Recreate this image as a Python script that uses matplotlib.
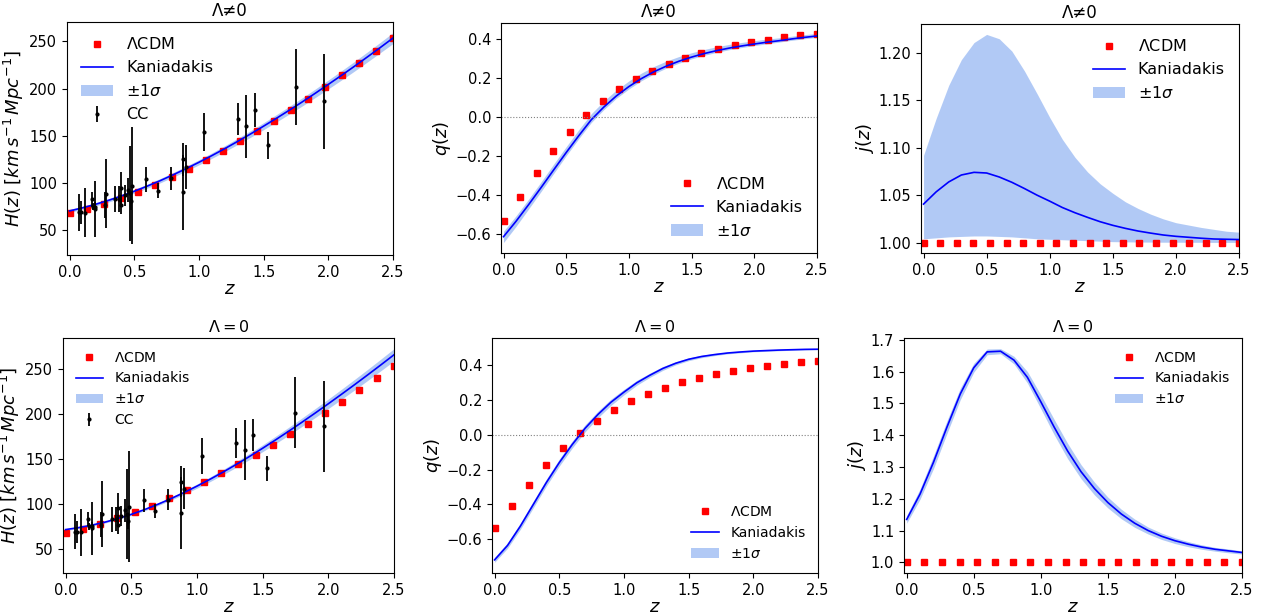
import matplotlib
matplotlib.use("Agg")
import matplotlib.pyplot as plt
import numpy as np

# cosmic chronometer data (z, H, sigma_H)
cc_z = [0.07, 0.09, 0.12, 0.17, 0.179, 0.199, 0.2, 0.27, 0.28, 0.352, 0.3802, 0.4,
        0.4004, 0.4247, 0.4497, 0.47, 0.4783, 0.48, 0.593, 0.68, 0.781, 0.875, 0.88,
        0.9, 1.037, 1.3, 1.363, 1.43, 1.53, 1.75, 1.965]
cc_h = [69, 69, 68.6, 83, 75, 75, 72.9, 77, 88.8, 83, 83, 95, 77, 87.1, 92.8, 89,
        80.9, 97, 104, 92, 105, 125, 90, 117, 154, 168, 160, 177, 140, 202, 186.5]
cc_err = [19.6, 12, 26.2, 8, 4, 5, 29.6, 14, 36.6, 14, 13.5, 17, 10.2, 11.2, 12.9, 50,
          9, 62, 13, 8, 12, 17, 40, 23, 20, 17, 33.6, 18, 14, 40, 50.4]

# LCDM reference points
lcdm_z = [0.0, 0.1316, 0.2632, 0.3947, 0.5263, 0.6579, 0.7895, 0.9211, 1.0526, 1.1842,
          1.3158, 1.4474, 1.5789, 1.7105, 1.8421, 1.9737, 2.1053, 2.2368, 2.3684, 2.5]
lcdm_h = [67.8, 72.4, 77.7, 83.9, 90.8, 98.3, 106.5, 115.2, 124.5, 134.2,
          144.5, 155.1, 166.2, 177.6, 189.4, 201.6, 214.1, 226.9, 240.1, 253.5]
lcdm_q = [-0.535, -0.409, -0.287, -0.176, -0.078, 0.008, 0.080, 0.142, 0.193, 0.236,
          0.272, 0.302, 0.328, 0.349, 0.367, 0.383, 0.396, 0.408, 0.417, 0.426]
lcdm_j = [1.0] * 20

# Kaniadakis curves on z = 0, 0.1, ..., 2.5
kz = [0.0, 0.1, 0.2, 0.3, 0.4, 0.5, 0.6, 0.7, 0.8, 0.9, 1.0, 1.1, 1.2,
      1.3, 1.4, 1.5, 1.6, 1.7, 1.8, 1.9, 2.0, 2.1, 2.2, 2.3, 2.4, 2.5]

# Lambda != 0
h_nl = [70.5, 73.75, 77.47, 81.64, 86.26, 91.29, 96.73, 102.5, 108.7, 115.2, 122.0, 129.1, 136.5,
        144.2, 152.1, 160.3, 168.7, 177.3, 186.1, 195.2, 204.5, 213.9, 223.5, 233.4, 243.4, 253.6]
h_nl_sig = [1.6, 1.6, 1.7, 1.8, 1.9, 2.0, 2.1, 2.3, 2.4, 2.6, 2.7, 2.9, 3.1,
            3.3, 3.5, 3.7, 3.9, 4.1, 4.3, 4.5, 4.7, 4.9, 5.1, 5.3, 5.5, 5.8]
q_nl = [-0.614, -0.535, -0.450, -0.362, -0.272, -0.183, -0.097, -0.015, 0.050, 0.107, 0.155, 0.196, 0.231,
        0.260, 0.285, 0.306, 0.324, 0.339, 0.352, 0.363, 0.373, 0.382, 0.390, 0.399, 0.407, 0.414]
q_nl_up = [0.028, 0.028, 0.028, 0.029, 0.030, 0.030, 0.031, 0.031, 0.031, 0.030, 0.029, 0.028, 0.027,
           0.026, 0.024, 0.022, 0.021, 0.020, 0.019, 0.018, 0.017, 0.016, 0.015, 0.014, 0.014, 0.013]
q_nl_dn = [0.030, 0.026, 0.022, 0.020, 0.018, 0.016, 0.015, 0.014, 0.013, 0.012, 0.012, 0.011, 0.011,
           0.010, 0.010, 0.009, 0.009, 0.009, 0.008, 0.008, 0.008, 0.008, 0.007, 0.007, 0.007, 0.007]
j_nl = [1.0406, 1.0535, 1.0640, 1.0713, 1.0741, 1.0734, 1.0692, 1.0636, 1.0570, 1.0500, 1.0437, 1.0370, 1.0315,
        1.0266, 1.0220, 1.0182, 1.0150, 1.0122, 1.0100, 1.0080, 1.0066, 1.0056, 1.0046, 1.0038, 1.0035, 1.0032]
j_nl_hi = [1.092, 1.131, 1.166, 1.193, 1.211, 1.2196, 1.215, 1.202, 1.181, 1.157, 1.132, 1.109, 1.090,
           1.0745, 1.062, 1.052, 1.043, 1.036, 1.030, 1.025, 1.021, 1.0185, 1.016, 1.014, 1.012, 1.011]
j_nl_lo = [1.0040, 1.0050, 1.0060, 1.0065, 1.0070, 1.0070, 1.0065, 1.0060, 1.0050, 1.0040, 1.0035, 1.0030, 1.0025,
           1.0020, 1.0015, 1.0010, 1.0008, 1.0006, 1.0005, 1.0004, 1.0004, 1.0003, 1.0003, 1.0002, 1.0002, 1.0002]

# Lambda = 0
h_l0 = [71.5, 73.72, 76.46, 79.82, 83.84, 88.49, 93.73, 99.53, 105.86, 112.67, 119.93, 127.62, 135.71,
        144.18, 153.01, 162.17, 171.61, 181.30, 191.24, 201.39, 211.75, 222.30, 233.04, 243.97, 255.07, 266.35]
h_l0_sig = [1.0, 1.0, 1.0, 1.0, 1.0, 1.1, 1.3, 1.5, 1.7, 2.0, 2.3, 2.6, 2.9,
            3.2, 3.5, 3.8, 4.1, 4.4, 4.7, 5.0, 5.3, 5.6, 5.9, 6.2, 6.5, 6.8]
q_l0 = [-0.720, -0.637, -0.525, -0.400, -0.275, -0.160, -0.056, 0.038, 0.118, 0.188, 0.246, 0.300, 0.343,
        0.382, 0.412, 0.435, 0.451, 0.462, 0.471, 0.477, 0.482, 0.485, 0.488, 0.490, 0.492, 0.493]
q_l0_sig = [0.014, 0.016, 0.018, 0.019, 0.020, 0.020, 0.020, 0.020, 0.019, 0.018, 0.016, 0.014, 0.012,
            0.011, 0.009, 0.008, 0.007, 0.006, 0.005, 0.005, 0.004, 0.004, 0.004, 0.003, 0.003, 0.003]
j_l0 = [1.135, 1.215, 1.315, 1.425, 1.530, 1.612, 1.662, 1.664, 1.636, 1.582, 1.505, 1.425, 1.350,
        1.285, 1.232, 1.188, 1.152, 1.123, 1.100, 1.082, 1.068, 1.057, 1.048, 1.041, 1.036, 1.031]
j_l0_sig = [0.012, 0.016, 0.020, 0.020, 0.018, 0.014, 0.009, 0.008, 0.012, 0.018, 0.022, 0.024, 0.024,
            0.022, 0.020, 0.017, 0.015, 0.013, 0.011, 0.010, 0.009, 0.008, 0.007, 0.006, 0.006, 0.005]

z_ticks = [0.0, 0.5, 1.0, 1.5, 2.0, 2.5]
j_l0_ticks = [1.0, 1.1, 1.2, 1.3, 1.4, 1.5, 1.6, 1.7]

BAND = dict(color="cornflowerblue", alpha=0.5, linewidth=0)


def draw_panel(ax, lcdm_y, k_y, lo, hi, title, ylabel, legend_loc, legend_size,
               cc=False, zero_line=False, title_size=12):
    ax.plot(lcdm_z, lcdm_y, "s", color="red", ms=4.3, label=r"$\Lambda$CDM")
    ax.plot(kz, k_y, color="blue", lw=1.2, label="Kaniadakis")
    ax.fill_between(kz, lo, hi, label=r"$\pm1\sigma$", **BAND)
    if cc:
        ax.errorbar(cc_z, cc_h, yerr=cc_err, fmt=".", color="black", ms=4, elinewidth=1.3, label="CC")
    if zero_line:
        ax.axhline(0, color="gray", ls=":", lw=0.8)
    ax.set_xlim(-0.02, 2.5)
    ax.set_xticks(z_ticks)
    ax.set_title(title, fontsize=title_size, pad=4)
    ax.set_xlabel(r"$z$", fontsize=13, labelpad=0)
    ax.set_ylabel(ylabel, fontsize=13, labelpad=2)
    ax.tick_params(labelsize=10.5)
    ax.legend(loc=legend_loc, frameon=False, fontsize=legend_size)


fig = plt.figure(figsize=(12.68, 6.15), dpi=100)
W, H = 1268, 615


def axes_px(left, top, right, bottom):
    return fig.add_axes([left / W, 1 - bottom / H, (right - left) / W, (bottom - top) / H])


hlabel = r"$H(z)\ [km\,s^{-1}\,Mpc^{-1}]$"

ax = axes_px(67, 22, 393, 255)
draw_panel(ax, lcdm_h, h_nl, np.array(h_nl) - h_nl_sig, np.array(h_nl) + h_nl_sig,
           "Λ≠0", hlabel, "upper left", 11.5, cc=True)

ax = axes_px(501, 23, 817, 253)
draw_panel(ax, lcdm_q, q_nl, np.array(q_nl) - q_nl_dn, np.array(q_nl) + q_nl_up,
           "Λ≠0", r"$q(z)$", "lower right", 11.5, zero_line=True)

ax = axes_px(921, 24, 1239, 253)
draw_panel(ax, lcdm_j, j_nl, j_nl_lo, j_nl_hi, "Λ≠0", r"$j(z)$", "upper right", 11.5)

ax = axes_px(63, 338, 394, 573)
draw_panel(ax, lcdm_h, h_l0, np.array(h_l0) - h_l0_sig, np.array(h_l0) + h_l0_sig,
           r"$\Lambda = 0$", hlabel, "upper left", 10, cc=True, title_size=11.5)

ax = axes_px(492, 338, 818, 573)
draw_panel(ax, lcdm_q, q_l0, np.array(q_l0) - q_l0_sig, np.array(q_l0) + q_l0_sig,
           r"$\Lambda = 0$", r"$q(z)$", "lower right", 10, zero_line=True, title_size=11.5)

ax = axes_px(904, 338, 1242, 573)
draw_panel(ax, lcdm_j, j_l0, np.array(j_l0) - j_l0_sig, np.array(j_l0) + j_l0_sig,
           r"$\Lambda = 0$", r"$j(z)$", "upper right", 10, title_size=11.5)
ax.set_yticks(j_l0_ticks)

fig.savefig("out.png", dpi=100)
